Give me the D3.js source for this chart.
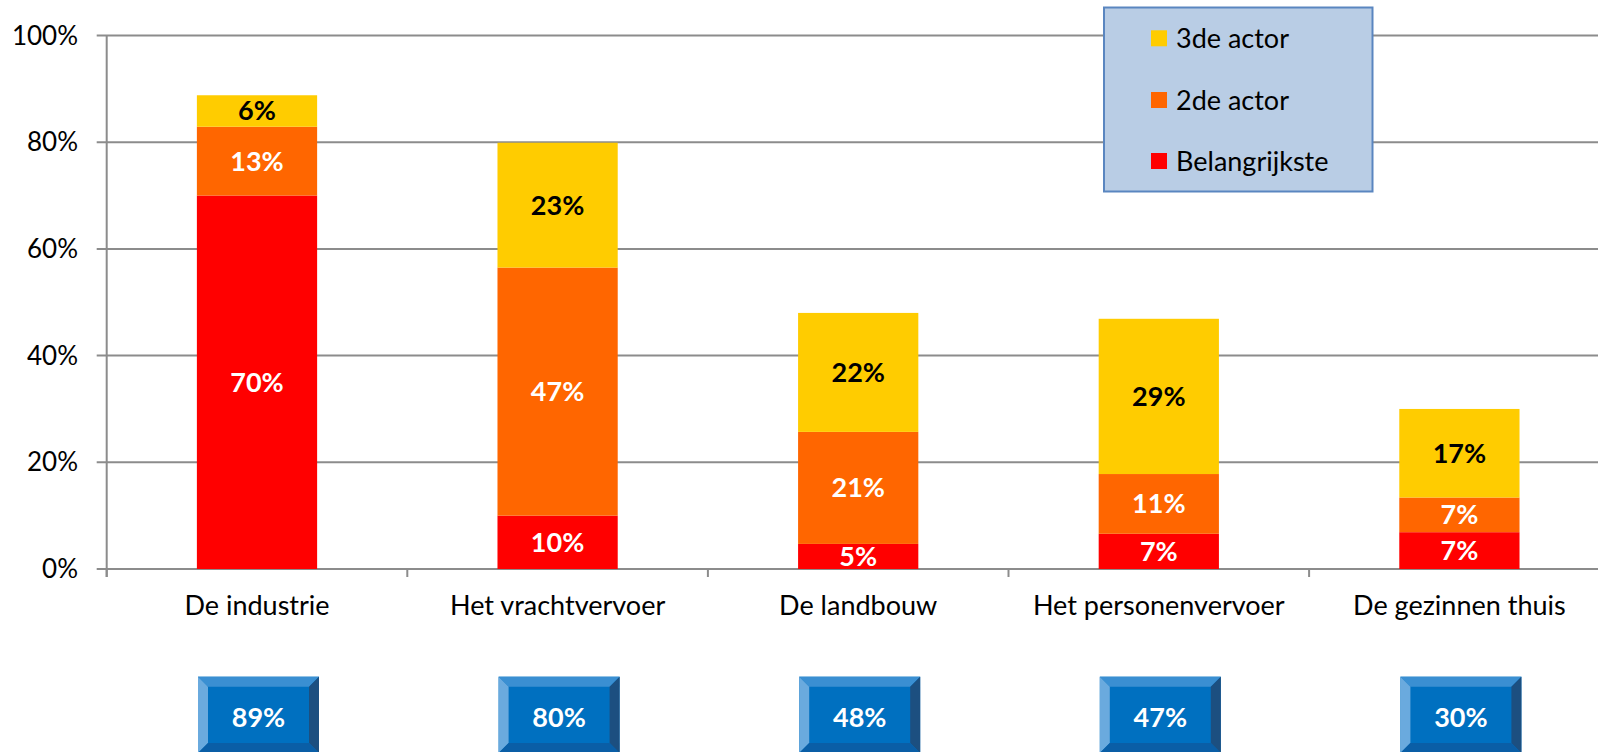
<!DOCTYPE html>
<html>
<head>
<meta charset="utf-8">
<script src="https://cdn.jsdelivr.net/npm/d3@7/dist/d3.min.js"></script>
<style>
  html, body { margin: 0; padding: 0; background: #fff; overflow: hidden; }
  svg { display: block; font-family: Lato, "Open Sans", sans-serif; }
</style>
</head>
<body>
<svg id="chart" width="1598" height="752"></svg>
<script>
const categories = ["De industrie", "Het vrachtvervoer", "De landbouw", "Het personenvervoer", "De gezinnen thuis"];
const seriesNames = ["Belangrijkste", "2de actor", "3de actor"];
const belangrijkste = [70, 10, 4.7, 6.6, 6.9];
const tweedeActor = [12.9, 46.5, 21, 11.2, 6.5];
const derdeActor = [5.9, 23.4, 22.3, 29.1, 16.6];
const totals = [89, 80, 48, 47, 30];
const yTicks = [0, 20, 40, 60, 80, 100];
const seriesColors = ["#ff0000", "#ff6600", "#ffcc00"];
const labelColors = ["#ffffff", "#ffffff", "#000000"];

const svg = d3.select("#chart");
const W = 1598, H = 752;
const pLeft = 106.7, pRight = 1609.7, pTop = 35.5, pBottom = 569;

const x = d3.scaleBand().domain(categories).range([pLeft, pRight]).paddingInner(0.6).paddingOuter(0.3);
const y = d3.scaleLinear().domain([0, 100]).range([pBottom, pTop]);
const step = x.step();

const rows = categories.map((c, i) => ({ cat: c, Belangrijkste: belangrijkste[i], "2de actor": tweedeActor[i], "3de actor": derdeActor[i] }));
const stack = d3.stack().keys(seriesNames)(rows);

// gridlines
svg.append("g").selectAll("line").data(yTicks).join("line")
  .attr("x1", pLeft - 10).attr("x2", W)
  .attr("y1", d => y(d)).attr("y2", d => y(d))
  .attr("stroke", "#8c8c8c").attr("stroke-width", 2);

// y axis line
svg.append("line").attr("x1", pLeft).attr("x2", pLeft).attr("y1", pTop).attr("y2", pBottom + 8)
  .attr("stroke", "#8c8c8c").attr("stroke-width", 2);

// x ticks at category boundaries
const bounds = categories.map(c => x(c) - step * 0.3);
svg.append("g").selectAll("line").data(bounds).join("line")
  .attr("x1", d => d).attr("x2", d => d).attr("y1", pBottom).attr("y2", pBottom + 8)
  .attr("stroke", "#8c8c8c").attr("stroke-width", 2);

// y tick labels
svg.append("g").selectAll("text").data(yTicks).join("text")
  .attr("x", 78).attr("y", d => y(d) + 9)
  .attr("text-anchor", "end").attr("font-size", 26).attr("fill", "#000")
  .text(d => d + "%");

// bars
const layers = svg.append("g").selectAll("g").data(stack).join("g")
  .attr("fill", (d, i) => seriesColors[i]);
layers.selectAll("rect").data(d => d).join("rect")
  .attr("x", d => x(d.data.cat)).attr("width", x.bandwidth())
  .attr("y", d => y(d[1])).attr("height", d => y(d[0]) - y(d[1]));

// data labels
stack.forEach((layer, li) => {
  svg.append("g").selectAll("text").data(layer).join("text")
    .attr("x", d => x(d.data.cat) + x.bandwidth() / 2)
    .attr("y", d => (y(d[0]) + y(d[1])) / 2 + 9.5)
    .attr("text-anchor", "middle").attr("font-size", 27).attr("font-weight", "bold")
    .attr("fill", labelColors[li])
    .text(d => Math.round(d[1] - d[0]) + "%");
});

// category labels
svg.append("g").selectAll("text").data(categories).join("text")
  .attr("x", d => x(d) + x.bandwidth() / 2).attr("y", 615)
  .attr("text-anchor", "middle").attr("font-size", 27).attr("fill", "#000")
  .text(d => d);

// bevel boxes with totals
const bw = 121, bt = 676.7, bb = 753, bv = 10;
const boxes = svg.append("g").selectAll("g").data(totals).join("g")
  .attr("transform", (d, i) => `translate(${x(categories[i]) + x.bandwidth() / 2 + 1.5 - bw / 2},${bt})`);
const bh = bb - bt;
boxes.append("rect").attr("width", bw).attr("height", bh).attr("fill", "#0070c0");
boxes.append("polygon").attr("points", `0,0 ${bw},0 ${bw - bv},${bv} ${bv},${bv}`).attr("fill", "#3a8fd2");
boxes.append("polygon").attr("points", `0,0 ${bv},${bv} ${bv},${bh - bv} 0,${bh}`).attr("fill", "#6aaade");
boxes.append("polygon").attr("points", `${bw},0 ${bw},${bh} ${bw - bv},${bh - bv} ${bw - bv},${bv}`).attr("fill", "#1c4f80");
boxes.append("polygon").attr("points", `0,${bh} ${bv},${bh - bv} ${bw - bv},${bh - bv} ${bw},${bh}`).attr("fill", "#0a5ea6");
boxes.append("text").attr("x", bw / 2).attr("y", 50).attr("text-anchor", "middle")
  .attr("font-size", 27).attr("font-weight", "bold").attr("fill", "#fff")
  .text(d => d + "%");

// legend
const lg = svg.append("g");
lg.append("rect").attr("x", 1104).attr("y", 7.5).attr("width", 268.5).attr("height", 184)
  .attr("fill", "#b9cde5").attr("stroke", "#5a86c0").attr("stroke-width", 2);
const legendOrder = [2, 1, 0];
const legendY = [38.3, 100, 161];
legendOrder.forEach((si, k) => {
  lg.append("rect").attr("x", 1151).attr("y", legendY[k] - 8).attr("width", 16).attr("height", 16)
    .attr("fill", seriesColors[si]);
  lg.append("text").attr("x", 1176).attr("y", legendY[k] + 10).attr("font-size", 27).attr("fill", "#000")
    .text(seriesNames[si]);
});
</script>
</body>
</html>
